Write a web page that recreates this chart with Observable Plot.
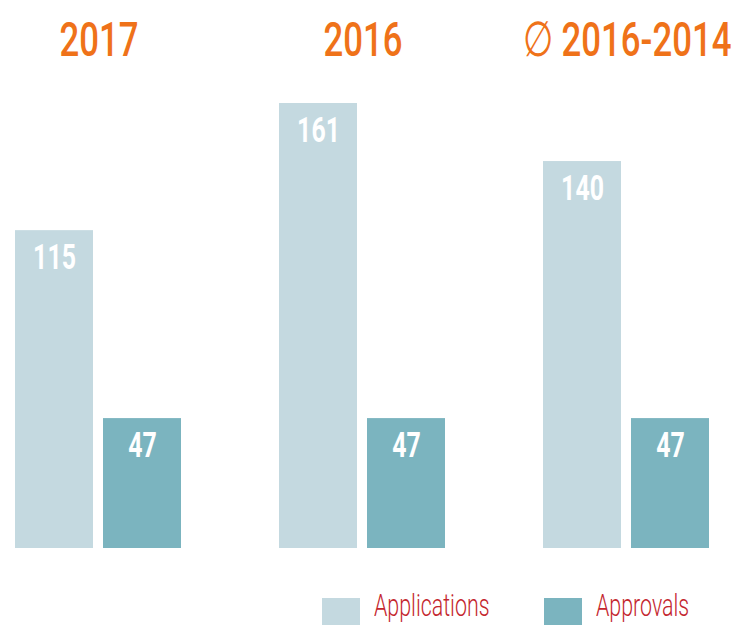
<!DOCTYPE html>
<html>
<head>
<meta charset="utf-8">
<script src="https://cdn.jsdelivr.net/npm/d3@7"></script>
<script src="https://cdn.jsdelivr.net/npm/@observablehq/plot@0.6"></script>
<style>
  html, body { margin: 0; padding: 0; background: #fff; }
  #wrap { position: relative; width: 754px; height: 625px; overflow: hidden; }
  #legend { position: absolute; left: 0; top: 0; width: 754px; height: 625px; pointer-events: none; }
  .sw { position: absolute; width: 38px; height: 27px; top: 598px; }
  .lbl { position: absolute; top: 591px; font-family: Roboto, "Liberation Sans", sans-serif; font-weight: 300;
         font-size: 31px; line-height: 30px; color: #c4262e; white-space: nowrap;
         transform: scaleX(0.69); transform-origin: 0 0; }
</style>
</head>
<body>
<div id="wrap"><div id="chart"></div><div id="legend"></div></div>
<script>
// ---- data ----
const periods = ["2017", "2016", "∅ 2016-2014"];
const series = ["Applications", "Approvals"];
const applications = [115, 161, 140];
const approvals = [47, 47, 47];
const seriesColors = ["#c4d9e0", "#7bb4bf"];

const data = [];
periods.forEach((p, i) => {
  data.push({period: p, series: series[0], value: applications[i]});
  data.push({period: p, series: series[1], value: approvals[i]});
});
const titles = periods.map(p => ({period: p}));

const plot = Plot.plot({
  width: 754,
  height: 560,
  marginTop: 103,
  marginBottom: 12,
  marginLeft: 14,
  marginRight: 42,
  fx: {domain: periods, paddingInner: 0.366, paddingOuter: 0, axis: null, label: null},
  x: {domain: series, paddingInner: 0.112, paddingOuter: 0, axis: null, label: null},
  y: {domain: [0, 161], axis: null, label: null},
  color: {domain: series, range: seriesColors},
  style: {fontFamily: "Roboto, sans-serif", background: "white"},
  marks: [
    Plot.barY(data, {fx: "period", x: "series", y: "value", fill: "series"}),
    Plot.text(data, {
      fx: "period", x: "series", y: "value", text: d => String(d.value),
      fill: "white", fontSize: 35, fontWeight: 700, lineAnchor: "bottom", dy: 38
    }),
    Plot.text(titles, {
      fx: "period", text: "period", frameAnchor: "top", lineAnchor: "bottom", dy: -48,
      fill: "#ef7219", fontSize: 49, fontWeight: 500
    })
  ]
});

function squeezeText(t, sx) {
  const tr = t.getAttribute("transform");
  if (tr) {
    t.setAttribute("transform", tr + ` scale(${sx},1)`);
  } else {
    const x = +(t.getAttribute("x") || 0), y = +(t.getAttribute("y") || 0);
    t.removeAttribute("x"); t.removeAttribute("y");
    t.setAttribute("transform", `translate(${x},${y}) scale(${sx},1)`);
  }
}
plot.querySelectorAll('g[aria-label="text"]').forEach(g => {
  const fill = (g.getAttribute("fill") || "").toLowerCase();
  const sx = fill === "white" ? 0.8 : 0.71;
  g.querySelectorAll("text").forEach(t => squeezeText(t, sx));
});

document.getElementById("chart").appendChild(plot);

// legend built from the plot's color scale
const color = plot.scale("color");
const legend = document.getElementById("legend");
const legendPos = [322, 544];
series.forEach((s, i) => {
  const sw = document.createElement("div");
  sw.className = "sw";
  sw.style.left = legendPos[i] + "px";
  sw.style.background = color.apply(s);
  legend.appendChild(sw);
  const lb = document.createElement("div");
  lb.className = "lbl";
  lb.style.left = (legendPos[i] + 52) + "px";
  lb.textContent = s;
  legend.appendChild(lb);
});
</script>
</body>
</html>
